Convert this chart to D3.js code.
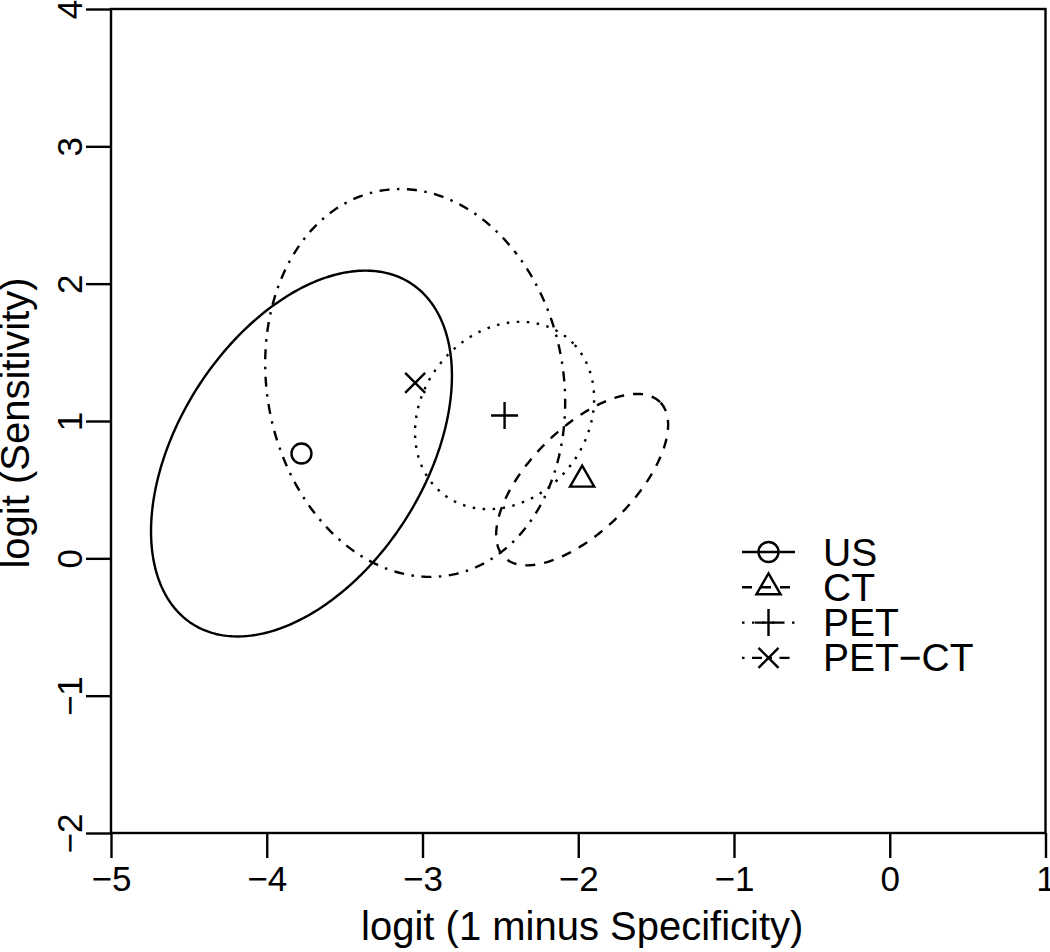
<!DOCTYPE html>
<html>
<head>
<meta charset="utf-8">
<script src="https://cdn.jsdelivr.net/npm/d3@7"></script>
<style>
  html, body { margin: 0; padding: 0; background: #fff; }
  svg { display: block; }
  text { font-family: "Liberation Sans", Arial, Helvetica, sans-serif; fill: #000; }
</style>
</head>
<body>
<svg id="chart" width="1050" height="952"></svg>
<script>
// ---- data ----
const tests = ["US", "CT", "PET", "PET\u2212CT"];
const centerX = [-3.777, -1.975, -2.473, -3.047];   // logit(1 - specificity)
const centerY = [0.763, 0.573, 1.040, 1.277];       // logit(sensitivity)
const halfRangeX = [0.966, 0.552, 0.575, 0.963];
const halfRangeY = [1.332, 0.624, 0.682, 1.412];
const correlation = [0.425, 0.64, 0.18, -0.10];
const markers = ["circle", "triangle", "plus", "cross"];
const lineTypes = ["solid", "dashed", "dotted", "dotdash"];

const xTicks = [-5, -4, -3, -2, -1, 0, 1];
const xTickLabels = ["\u22125", "\u22124", "\u22123", "\u22122", "\u22121", "0", "1"];
const yTicks = [-2, -1, 0, 1, 2, 3, 4];
const yTickLabels = ["\u22122", "\u22121", "0", "1", "2", "3", "4"];
const xTitle = "logit (1 minus Specificity)";
const yTitle = "logit (Sensitivity)";

// ---- layout ----
const L = 111, R = 1045.5, T = 9, B = 833;
const lw = 2.4;
const dashes = { solid: null, dashed: "10 9", dotted: "2.5 7.5", dotdash: "2.5 7.5 10 7.5" };

const svg = d3.select("#chart");
const x = d3.scaleLinear().domain([-5, 1]).range([L, R]);
const y = d3.scaleLinear().domain([-2, 4]).range([B, T]);

// frame
svg.append("rect").attr("x", L).attr("y", T).attr("width", R - L).attr("height", B - T)
  .attr("fill", "none").attr("stroke", "#000").attr("stroke-width", lw);

// x axis
const gx = svg.append("g").attr("transform", `translate(0,${B})`)
  .call(d3.axisBottom(x).tickValues(xTicks).tickSize(25).tickFormat((d, i) => xTickLabels[i]));
gx.select(".domain").remove();
gx.selectAll(".tick line").attr("stroke", "#000").attr("stroke-width", lw);
gx.selectAll(".tick text").attr("y", 58).attr("dy", null)
  .style("font-size", "35px").style("font-family", "'Liberation Sans', Arial, sans-serif");

// y axis
const gy = svg.append("g").attr("transform", `translate(${L},0)`)
  .call(d3.axisLeft(y).tickValues(yTicks).tickSize(25).tickFormat((d, i) => yTickLabels[i]));
gy.select(".domain").remove();
gy.selectAll(".tick line").attr("stroke", "#000").attr("stroke-width", lw);
gy.selectAll(".tick text").attr("x", null).attr("dy", null)
  .attr("text-anchor", "middle")
  .attr("transform", "translate(-29,0) rotate(-90)")
  .style("font-size", "35px").style("font-family", "'Liberation Sans', Arial, sans-serif");

// titles
svg.append("text").attr("x", (L + R) / 2 + 4).attr("y", 940).attr("text-anchor", "middle")
  .style("font-size", "40px").text(xTitle);
svg.append("text").attr("transform", `translate(29,${(T + B) / 2 + 2}) rotate(-90)`)
  .attr("text-anchor", "middle").style("font-size", "40px").text(yTitle);

// ellipses (parametrised as in R's ellipse(): x = cx + sx*cos(a + d/2), y = cy + sy*cos(a - d/2))
const angles = d3.range(0, 361).map(k => k * Math.PI / 180);
const lineGen = d3.line().x(p => x(p[0])).y(p => y(p[1]));
tests.forEach((t, i) => {
  const d = Math.acos(correlation[i]);
  const pts = angles.map(a => [
    centerX[i] + halfRangeX[i] * Math.cos(a + d / 2),
    centerY[i] + halfRangeY[i] * Math.cos(a - d / 2)
  ]);
  svg.append("path").attr("d", lineGen(pts) + "Z")
    .attr("fill", "none").attr("stroke", "#000").attr("stroke-width", lw)
    .attr("stroke-dasharray", dashes[lineTypes[i]]);
});

// marker drawing
function drawMarker(g, type, cx, cy) {
  const s = g.append("g").attr("transform", `translate(${cx},${cy})`)
    .attr("fill", "none").attr("stroke", "#000").attr("stroke-width", lw);
  if (type === "circle") {
    s.append("circle").attr("r", 10);
  } else if (type === "triangle") {
    const r = 14, hx = 12.1;
    s.append("path").attr("d", `M0,${-r}L${hx},${r / 2}L${-hx},${r / 2}Z`);
  } else if (type === "plus") {
    s.append("path").attr("d", "M-13.5,0H13.5M0,-13.5V13.5");
  } else if (type === "cross") {
    s.append("path").attr("d", "M-10,-10L10,10M-10,10L10,-10");
  }
}
const pointsG = svg.append("g");
tests.forEach((t, i) => drawMarker(pointsG, markers[i], x(centerX[i]), y(centerY[i])));

// legend
const lg = svg.append("g");
const legY0 = 552, legStep = 35.3;
tests.forEach((t, i) => {
  const yy = legY0 + i * legStep;
  lg.append("line").attr("x1", 742).attr("x2", 795).attr("y1", yy).attr("y2", yy)
    .attr("stroke", "#000").attr("stroke-width", lw)
    .attr("stroke-dasharray", dashes[lineTypes[i]]);
  drawMarker(lg, markers[i], 768.5, yy);
  lg.append("text").attr("x", 823).attr("y", yy + 13.5).style("font-size", "39px").text(t);
});
</script>
</body>
</html>
